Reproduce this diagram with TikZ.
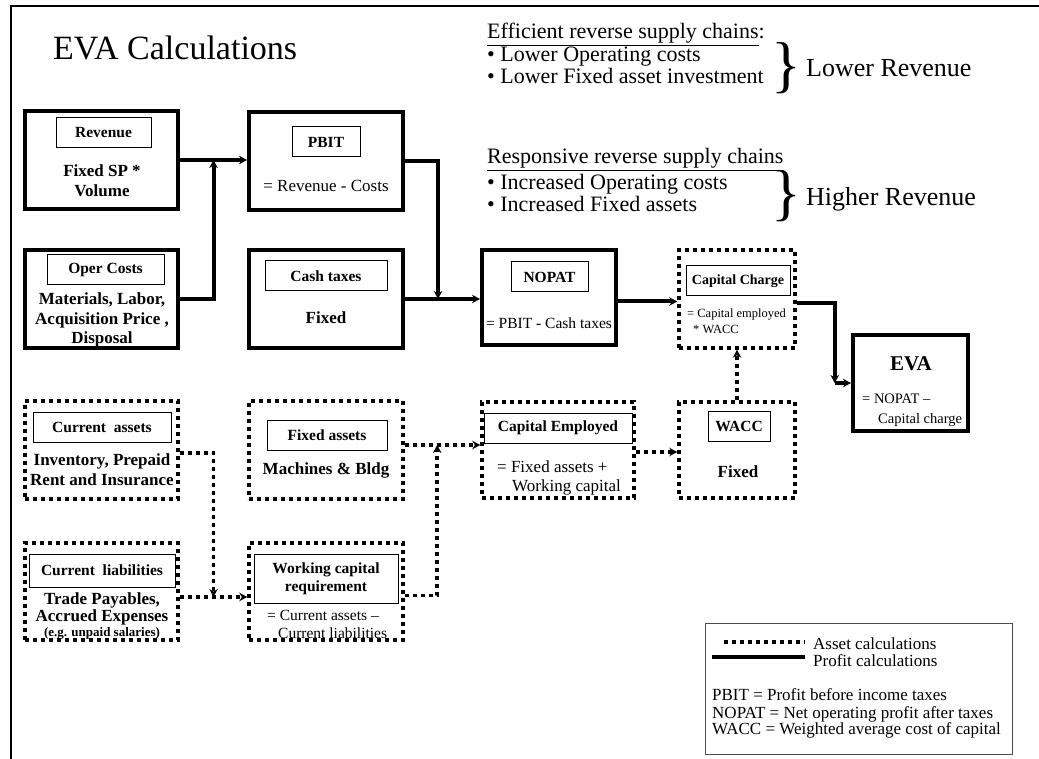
\documentclass[tikz,border=0pt]{standalone}
\usepackage{fontspec}
\setmainfont{Liberation Serif}
\usetikzlibrary{arrows.meta,calc}

\newcommand{\fsz}[2]{\fontsize{#1}{#2}\selectfont}

\begin{document}
\begin{tikzpicture}[x=1pt,y=-1pt,
  profitbox/.style={draw, line width=4pt, inner sep=0pt},
  assetbox/.style={draw, line width=3.5pt, dash pattern=on 4pt off 4pt, inner sep=0pt},
  tag/.style={draw, line width=1pt, inner sep=0pt, align=center, font=\bfseries\fsz{15.5}{18}},
  boldtxt/.style={inner sep=0pt, align=center, font=\bfseries\fsz{17}{19.5}},
  txt/.style={inner sep=0pt, align=center, font=\fsz{17}{19}},
  lefttxt/.style={inner sep=0pt, align=left, anchor=west},
  tip/.style={-{Stealth[length=8pt,width=8.5pt]}},
  profitline/.style={line width=4pt, tip},
  assetline/.style={line width=3.5pt, dash pattern=on 4pt off 4pt, tip},
  note/.style={inner sep=0pt, anchor=base west, font=\fsz{22}{24}},
  brace/.style={inner sep=0pt, font=\fsz{62}{62}},
  legendtxt/.style={inner sep=0pt, anchor=base west, font=\fsz{17}{19}},
]
\useasboundingbox (0,0) rectangle (1039,759);

% page frame
\draw[line width=2pt] (11,759) -- (11,6) -- (1039,6);

% title
\node[anchor=base west, inner sep=0pt, font=\fsz{34}{40}] (title) at (53,60) {EVA Calculations};

% ---- profit boxes ----
\node[profitbox, minimum width=153, minimum height=98] (rev)   at (101.5,160) {};
\node[profitbox, minimum width=154, minimum height=98] (pbit)  at (326,161) {};
\node[profitbox, minimum width=153, minimum height=98] (oper)  at (101.5,299) {};
\node[profitbox, minimum width=154, minimum height=98] (tax)   at (326,299) {};
\node[profitbox, minimum width=134, minimum height=95] (nopat) at (549,297.5) {};
\node[profitbox, minimum width=115, minimum height=96] (eva)   at (910.5,383) {};

% ---- asset boxes ----
\node[assetbox, minimum width=116, minimum height=98] (cc)   at (737,299) {};
\node[assetbox, minimum width=153, minimum height=98] (ca)   at (101.5,450) {};
\node[assetbox, minimum width=154, minimum height=98] (fa)   at (326,450) {};
\node[assetbox, minimum width=152, minimum height=96] (ce)   at (558,450) {};
\node[assetbox, minimum width=116, minimum height=96] (wacc) at (737,450) {};
\node[assetbox, minimum width=153, minimum height=97] (cl)   at (101.5,591.5) {};
\node[assetbox, minimum width=154, minimum height=97] (wc)   at (326,591.5) {};

% ---- heading tags ----
\node[tag, minimum width=95,  minimum height=30] (revtag)   at (103.5,133) {Revenue};
\node[tag, minimum width=68,  minimum height=30] (pbittag)  at (326,142) {PBIT};
\node[tag, minimum width=117, minimum height=30] (opertag)  at (105.5,270) {Oper Costs};
\node[tag, minimum width=122, minimum height=30] (taxtag)   at (326,276) {Cash taxes};
\node[tag, minimum width=77,  minimum height=30] (nopattag) at (549.5,277) {NOPAT};
\node[tag, minimum width=104, minimum height=30, font=\bfseries\fsz{14}{16}] (cctag) at (738,281) {Capital Charge};
\node[tag, minimum width=138, minimum height=30] (catag)    at (102,427) {Current\ \ assets};
\node[tag, minimum width=120, minimum height=30] (fatag)    at (327,435) {Fixed assets};
\node[tag, minimum width=148, minimum height=30] (cetag)    at (558,428) {Capital Employed};
\node[tag, minimum width=62,  minimum height=30] (wacctag)  at (739,426) {WACC};
\node[tag, minimum width=146, minimum height=33] (cltag)    at (102,570.5) {Current\ \ liabilities};
\node[tag, minimum width=144, minimum height=49] (wctag)    at (326,578.5) {Working capital\\requirement};

% ---- box contents ----
\node[boldtxt] (revtxt)   at (102,180.5) {Fixed SP *\\Volume};
\node[txt]     (pbittxt)  at (326,186) {= Revenue - Costs};
\node[boldtxt] (opertxt)  at (102,320) {Materials, Labor,\\Acquisition Price ,\\Disposal};
\node[boldtxt] (taxtxt)   at (326,318) {Fixed};
\node[txt, font=\fsz{15.5}{18}] (nopattxt) at (549,323) {= PBIT - Cash taxes};
\node[lefttxt, font=\fsz{12.5}{16}] (cctxt) at (687,321) {= Capital employed\\\hspace*{6pt}* WACC};
\node[inner sep=0pt, font=\bfseries\fsz{21}{24}] (evatitle) at (911,364) {EVA};
\node[lefttxt, font=\fsz{14.5}{20}] (evatxt) at (862,410) {= NOPAT –\\\hspace*{16pt}Capital charge};
\node[boldtxt, font=\bfseries\fsz{17}{20}] (catxt) at (102,470) {Inventory, Prepaid\\Rent and Insurance};
\node[boldtxt] (fatxt)    at (326,470) {Machines \& Bldg};
\node[lefttxt, font=\fsz{17}{19}] (cetxt) at (497,477.5) {= Fixed assets +\\\hspace*{15pt}Working capital};
\node[boldtxt] (wacctxt)  at (738,472) {Fixed};
\node[boldtxt, font=\bfseries\fsz{17}{17}] (cltxt) at (102,608.5) {Trade Payables,\\Accrued Expenses};
\node[inner sep=0pt, font=\bfseries\fsz{13}{15}] (clnote) at (102,633) {(e.g. unpaid salaries)};
\node[lefttxt, font=\fsz{15.5}{18}] (wctxt) at (267,624) {= Current assets –\\\hspace*{11pt}Current liabilities};

% ---- profit connectors ----
\coordinate (j1) at ($(rev.east)!0.5!(rev.east -| pbit.west)$);
\draw[profitline] (rev.east) -- (rev.east -| pbit.west);
\draw[profitline] (oper.east) -| (j1);
\coordinate (j2) at ($(tax.east)!0.44!(tax.east -| nopat.west)$);
\draw[profitline] (pbit.east) -| (j2);
\draw[profitline] (tax.east) -- (tax.east -| nopat.west);
\draw[profitline] ([yshift=-4pt]nopat.east) -- ([yshift=-4pt]nopat.east -| cc.west);
\path ([yshift=-4pt]cc.east) ++(38,0) coordinate (k1);
\coordinate (j3) at (k1 |- eva.west);
\draw[profitline] ([yshift=-4pt]cc.east) -| (j3);
\draw[profitline] (j3) -- (eva.west);

% ---- asset connectors ----
\draw[assetline] (wacc.north) -- (cc.south);
\draw[assetline] ([yshift=-2pt]ce.east) -- ([yshift=-2pt]ce.east -| wacc.west);
\draw[assetline] ([yshift=5pt]fa.east) -- ([yshift=5pt]fa.east -| ce.west);
\coordinate (j4) at ($([yshift=5pt]fa.east)!0.43!([yshift=5pt]fa.east -| ce.west)$);
\draw[assetline] ([yshift=-4pt]wc.east) -| (j4);
\coordinate (j5) at ($([yshift=-5.5pt]cl.east)!0.5!([yshift=-5.5pt]cl.east -| wc.west)$);
\draw[assetline] ([yshift=-5.5pt]cl.east) -- ([yshift=-5.5pt]cl.east -| wc.west);
\draw[assetline] ([yshift=-3pt]ca.east) -| (j5);

% ---- reverse supply chain notes ----
\node[note] (eff)   at (487,39)  {\underline{Efficient reverse supply chains}:};
\node[note] (eff1)  at (487,62)  {• Lower Operating costs};
\node[note] (eff2)  at (487,84)  {• Lower Fixed asset investment};
\node[brace] (brace1) at (786,68) {\}};
\node[note, font=\fsz{26}{28}] (lowrev) at (806,77) {Lower Revenue};
\node[note] (resp)  at (487,164) {\underline{Responsive reverse supply chains}};
\node[note] (resp1) at (487,190) {• Increased Operating costs};
\node[note] (resp2) at (487,212) {• Increased Fixed assets};
\node[brace] (brace2) at (786,196) {\}};
\node[note, font=\fsz{26}{28}] (highrev) at (806,206) {Higher Revenue};

% ---- legend ----
\node[draw=black!70, line width=1pt, inner sep=0pt, minimum width=307, minimum height=131] (legend) at (859,689) {};
\draw[line width=3.5pt, dash pattern=on 4pt off 4pt] (724,642) -- (805,642);
\draw[line width=4pt] (712,657) -- (805,657);
\node[legendtxt] (lgasset)  at (813,649) {Asset calculations};
\node[legendtxt] (lgprofit) at (813,666) {Profit calculations};
\node[legendtxt] (lgpbit)   at (712,700) {PBIT = Profit before income taxes};
\node[legendtxt] (lgnopat)  at (712,718) {NOPAT = Net operating profit after taxes};
\node[legendtxt] (lgwacc)   at (712,734) {WACC = Weighted average cost of capital};
\end{tikzpicture}
\end{document}
